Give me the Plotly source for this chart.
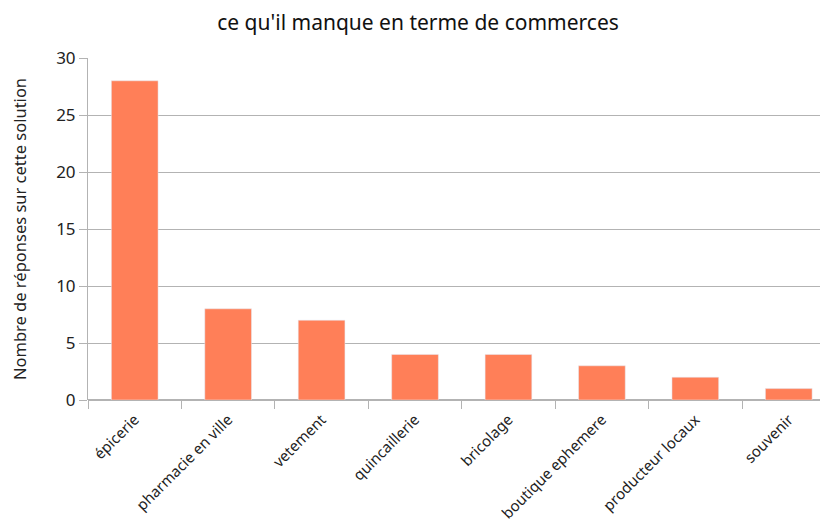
import plotly.graph_objects as go

categories = ["épicerie", "pharmacie en ville", "vetement", "quincaillerie", "bricolage",
              "boutique ephemere", "producteur locaux", "souvenir"]
values = [28, 8, 7, 4, 4, 3, 2, 1]

fig = go.Figure(go.Bar(x=categories, y=values, marker_color="#ff7f58", width=0.5))

# the page body adds an 8px offset, so the figure is sized/placed to compensate
fig.update_layout(
    width=820, height=518,
    margin=dict(l=80, r=0, t=50, b=126),
    paper_bgcolor="white", plot_bgcolor="white",
    font=dict(family="Noto Sans", color="#333"),
    title=dict(text="ce qu'il manque en terme de commerces", x=0.5, xref="container",
               y=0.972, yref="container", xanchor="center", yanchor="middle",
               font=dict(size=21, color="#111", family="Noto Sans")),
    showlegend=False,
)
fig.update_xaxes(
    automargin=False,
    tickangle=-45, tickfont=dict(size=15, color="#222"), ticklabelstandoff=7,
    ticks="outside", tickson="boundaries", ticklen=8, tickcolor="#b3b3b3",
    showline=False, showgrid=False, range=[-0.5, 7.42],
)
fig.update_yaxes(
    automargin=False,
    range=[0, 30], dtick=5, tickfont=dict(size=17, color="#222"),
    ticks="outside", ticklen=8, tickcolor="#b3b3b3",
    showgrid=True, gridcolor="#b3b3b3", gridwidth=1,
    showline=True, linecolor="#b3b3b3", zeroline=True, zerolinecolor="#b3b3b3",
    title=dict(text="Nombre de réponses sur cette solution", font=dict(size=16.5, color="#222"), standoff=30),
)

fig.write_html("out.html")
